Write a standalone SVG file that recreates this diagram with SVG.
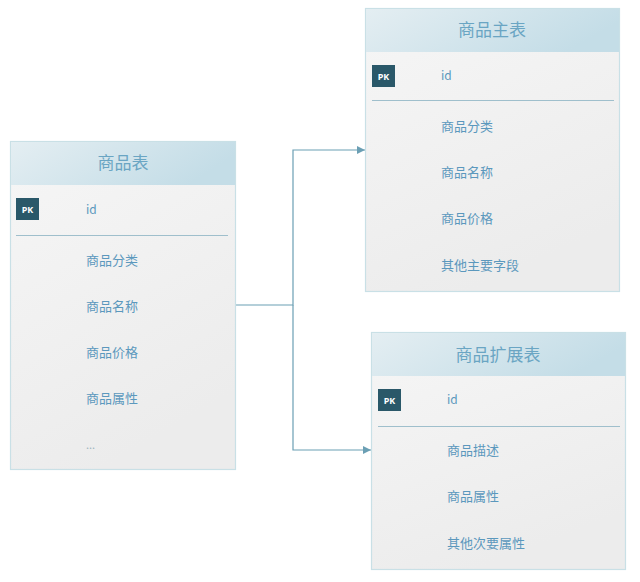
<svg xmlns="http://www.w3.org/2000/svg" width="640" height="582" viewBox="0 0 640 582">
<defs>
<linearGradient id="hdr" x1="0" y1="0" x2="1" y2="0.3">
<stop offset="0" stop-color="#e4eef2"/>
<stop offset="1" stop-color="#c4dde7"/>
</linearGradient>
<linearGradient id="body" x1="0" y1="0" x2="0.4" y2="1">
<stop offset="0" stop-color="#f6f6f6"/>
<stop offset="1" stop-color="#ececec"/>
</linearGradient>
<marker id="arr" viewBox="0 0 10 10" refX="10" refY="5" markerWidth="8" markerHeight="8" markerUnits="userSpaceOnUse" orient="auto">
<path d="M0,0 L10,5 L0,10 z" fill="#6b9fb4"/>
</marker>
<style>
.box{fill:url(#body);stroke:#c9e0e6;stroke-width:1.2}
.hd{fill:url(#hdr)}
.title{font-family:"Noto Sans CJK SC","Noto Sans",sans-serif;font-size:17px;fill:#6aa5c3;text-anchor:middle;dominant-baseline:central}
.row{font-family:"Noto Sans CJK SC","Noto Sans",sans-serif;font-size:13px;fill:#5b98bd;dominant-baseline:central}
.pk{fill:#2a5869}
.pkt{font-family:"Noto Sans","Liberation Sans",sans-serif;font-size:9px;font-weight:bold;fill:#ffffff;text-anchor:middle;dominant-baseline:central}
.sep{stroke:#9fbfcc;stroke-width:1}
.conn{fill:none;stroke:#6b9fb4;stroke-width:1.2}
</style>
</defs>

<g id="connectors">
<path class="conn" d="M235,305 H293 V150 H365" marker-end="url(#arr)"/>
<path class="conn" d="M293,305 V450 H371" marker-end="url(#arr)"/>
</g>

<g id="goods">
<rect class="box" x="10.5" y="141.5" width="225" height="328"/>
<rect class="hd" x="11" y="142" width="224" height="43"/>
<text class="title" x="123" y="161">商品表</text>
<rect class="pk" x="16" y="198" width="23" height="22"/>
<text class="pkt" x="27.5" y="209">PK</text>
<text class="row" x="86" y="208" style="font-size:12px">id</text>
<line class="sep" x1="16" y1="235.5" x2="228" y2="235.5"/>
<text class="row" x="86" y="259">商品分类</text>
<text class="row" x="86" y="305">商品名称</text>
<text class="row" x="86" y="351">商品价格</text>
<text class="row" x="86" y="397">商品属性</text>
<text class="row" x="86" y="444" style="fill:#a0b4bf;font-size:11px">...</text>
</g>

<g id="goods-main">
<rect class="box" x="365.5" y="8.5" width="254" height="283"/>
<rect class="hd" x="366" y="9" width="253" height="43"/>
<text class="title" x="492" y="28">商品主表</text>
<rect class="pk" x="372" y="65" width="23" height="22"/>
<text class="pkt" x="383.5" y="76">PK</text>
<text class="row" x="441" y="74" style="font-size:12px">id</text>
<line class="sep" x1="372" y1="100.5" x2="614" y2="100.5"/>
<text class="row" x="441" y="125">商品分类</text>
<text class="row" x="441" y="171">商品名称</text>
<text class="row" x="441" y="217">商品价格</text>
<text class="row" x="441" y="264">其他主要字段</text>
</g>

<g id="goods-ext">
<rect class="box" x="371.5" y="332.5" width="254" height="237"/>
<rect class="hd" x="372" y="333" width="253" height="43"/>
<text class="title" x="498" y="353">商品扩展表</text>
<rect class="pk" x="378" y="389" width="23" height="22"/>
<text class="pkt" x="389.5" y="400">PK</text>
<text class="row" x="447" y="398" style="font-size:12px">id</text>
<line class="sep" x1="378" y1="426.5" x2="620" y2="426.5"/>
<text class="row" x="447" y="449">商品描述</text>
<text class="row" x="447" y="495">商品属性</text>
<text class="row" x="447" y="542">其他次要属性</text>
</g>
</svg>
